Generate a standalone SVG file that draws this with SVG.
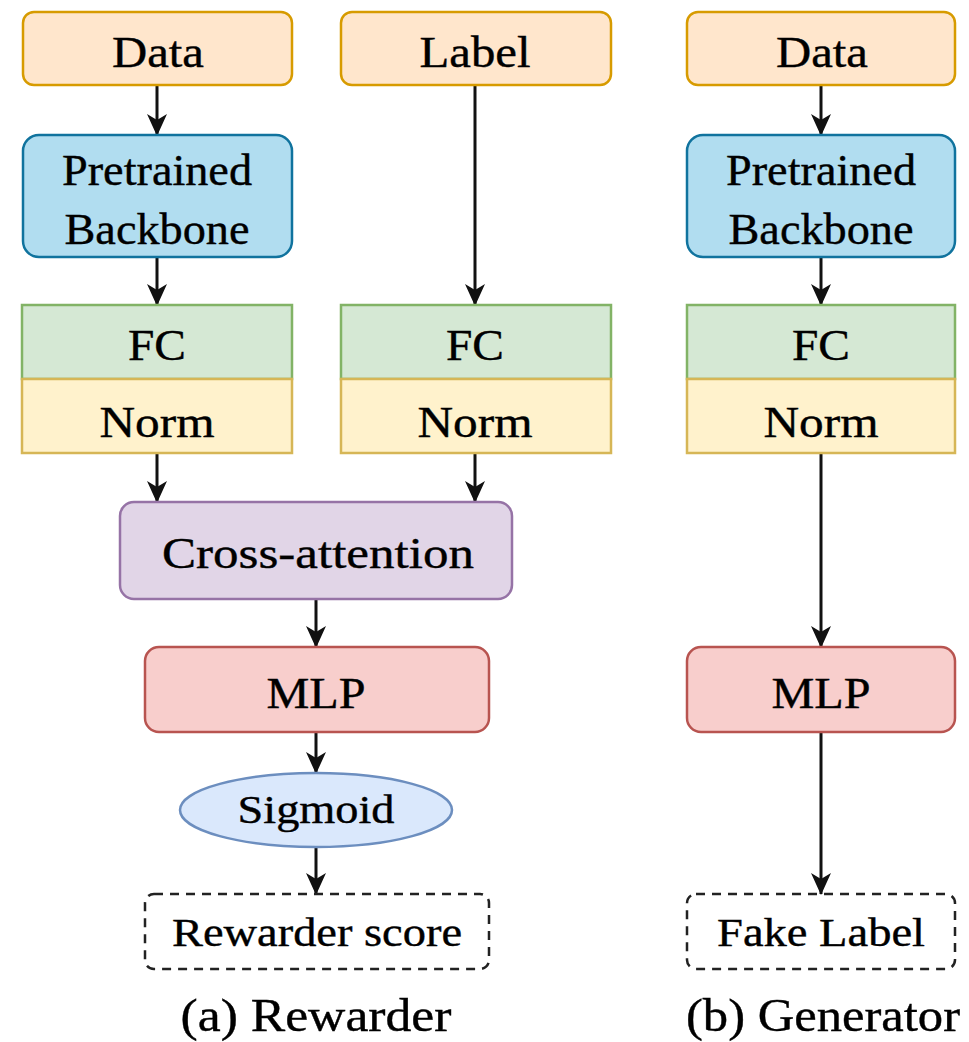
<svg xmlns="http://www.w3.org/2000/svg" width="969" height="1042" viewBox="0 0 969 1042">
<style>
text{font-family:"Liberation Serif","Times New Roman",serif;font-size:45px;fill:#000;text-anchor:middle;stroke:#000;stroke-width:0.4}
.sm{font-size:41px}
.cap{font-size:47px}
.orange{fill:#ffe6cc;stroke:#d79b00;stroke-width:2.5}
.blue{fill:#b1ddf0;stroke:#10739e;stroke-width:2.5}
.green{fill:#d5e8d4;stroke:#82b366;stroke-width:2.5}
.yellow{fill:#fff2cc;stroke:#d6b656;stroke-width:2.5}
.purple{fill:#e1d5e7;stroke:#9673a6;stroke-width:2.5}
.red{fill:#f8cecc;stroke:#b85450;stroke-width:2.5}
.lblue{fill:#dae8fc;stroke:#6c8ebf;stroke-width:2.5}
.dash{fill:none;stroke:#222;stroke-width:2.5;stroke-dasharray:9,7}
.edge{stroke:#111;stroke-width:3;fill:none;marker-end:url(#arr)}
</style>
<defs>
<marker id="arr" viewBox="0 0 22 20" refX="21" refY="10" markerWidth="22" markerHeight="20" markerUnits="userSpaceOnUse" orient="auto">
<path d="M0,0 L22,10 L0,20 L6,10 Z" fill="#111"/>
</marker>
</defs>
<rect width="969" height="1042" fill="#ffffff"/>
<g id="connectors">
<line class="edge" x1="157" y1="86" x2="157" y2="135"/>
<line class="edge" x1="157" y1="258" x2="157" y2="305"/>
<line class="edge" x1="157" y1="454" x2="157" y2="502"/>
<line class="edge" x1="475" y1="86" x2="475" y2="305"/>
<line class="edge" x1="475" y1="454" x2="475" y2="502"/>
<line class="edge" x1="316" y1="600" x2="316" y2="647"/>
<line class="edge" x1="316" y1="733" x2="316" y2="773"/>
<line class="edge" x1="316" y1="848" x2="316" y2="894"/>
<line class="edge" x1="821" y1="86" x2="821" y2="135"/>
<line class="edge" x1="821" y1="258" x2="821" y2="305"/>
<line class="edge" x1="821" y1="454" x2="821" y2="647"/>
<line class="edge" x1="821" y1="733" x2="821" y2="894"/>
</g>
<g id="data-a"><rect class="orange" x="23" y="12" width="269" height="73" rx="11"/><text x="158" y="67" textLength="92" lengthAdjust="spacingAndGlyphs">Data</text></g>
<g id="label"><rect class="orange" x="341" y="12" width="270" height="73" rx="11"/><text x="475" y="67" textLength="111" lengthAdjust="spacingAndGlyphs">Label</text></g>
<g id="data-b"><rect class="orange" x="687" y="12" width="268" height="73" rx="11"/><text x="822" y="67" textLength="92" lengthAdjust="spacingAndGlyphs">Data</text></g>
<g id="backbone-a"><rect class="blue" x="23" y="135" width="269" height="122" rx="16"/><text x="157" y="185" textLength="190" lengthAdjust="spacingAndGlyphs">Pretrained</text><text x="157" y="244" textLength="185" lengthAdjust="spacingAndGlyphs">Backbone</text></g>
<g id="backbone-b"><rect class="blue" x="687" y="135" width="268" height="122" rx="16"/><text x="821" y="185" textLength="190" lengthAdjust="spacingAndGlyphs">Pretrained</text><text x="821" y="244" textLength="185" lengthAdjust="spacingAndGlyphs">Backbone</text></g>
<g id="fc-a"><rect class="green" x="22" y="305" width="270" height="74"/><text x="157" y="360" textLength="58" lengthAdjust="spacingAndGlyphs">FC</text></g>
<g id="norm-a"><rect class="yellow" x="22" y="379" width="270" height="74"/><text x="157" y="437" textLength="115" lengthAdjust="spacingAndGlyphs">Norm</text></g>
<g id="fc-l"><rect class="green" x="341" y="305" width="270" height="74"/><text x="475" y="360" textLength="58" lengthAdjust="spacingAndGlyphs">FC</text></g>
<g id="norm-l"><rect class="yellow" x="341" y="379" width="270" height="74"/><text x="475" y="437" textLength="115" lengthAdjust="spacingAndGlyphs">Norm</text></g>
<g id="fc-b"><rect class="green" x="687" y="305" width="268" height="74"/><text x="821" y="360" textLength="58" lengthAdjust="spacingAndGlyphs">FC</text></g>
<g id="norm-b"><rect class="yellow" x="687" y="379" width="268" height="74"/><text x="821" y="437" textLength="115" lengthAdjust="spacingAndGlyphs">Norm</text></g>
<g id="cross-attention"><rect class="purple" x="120" y="502" width="392" height="97" rx="14"/><text x="318" y="568" textLength="312" lengthAdjust="spacingAndGlyphs">Cross-attention</text></g>
<g id="mlp-a"><rect class="red" x="145" y="647" width="344" height="85" rx="14"/><text x="316" y="708" textLength="99" lengthAdjust="spacingAndGlyphs">MLP</text></g>
<g id="mlp-b"><rect class="red" x="687" y="647" width="268" height="85" rx="14"/><text x="821" y="708" textLength="99" lengthAdjust="spacingAndGlyphs">MLP</text></g>
<g id="sigmoid"><ellipse class="lblue" cx="316" cy="810" rx="136" ry="37"/><text class="sm" x="316" y="823" textLength="157" lengthAdjust="spacingAndGlyphs">Sigmoid</text></g>
<g id="score"><rect class="dash" x="145" y="894" width="344" height="75" rx="9"/><text class="sm" x="317" y="946" textLength="290" lengthAdjust="spacingAndGlyphs">Rewarder score</text></g>
<g id="fake"><rect class="dash" x="687" y="894" width="268" height="75" rx="9"/><text class="sm" x="821" y="946" textLength="208" lengthAdjust="spacingAndGlyphs">Fake Label</text></g>
<g id="caption-a"><text class="cap" x="316" y="1031" textLength="271" lengthAdjust="spacingAndGlyphs">(a) Rewarder</text></g>
<g id="caption-b"><text class="cap" x="823" y="1031" textLength="274" lengthAdjust="spacingAndGlyphs">(b) Generator</text></g>
</svg>
